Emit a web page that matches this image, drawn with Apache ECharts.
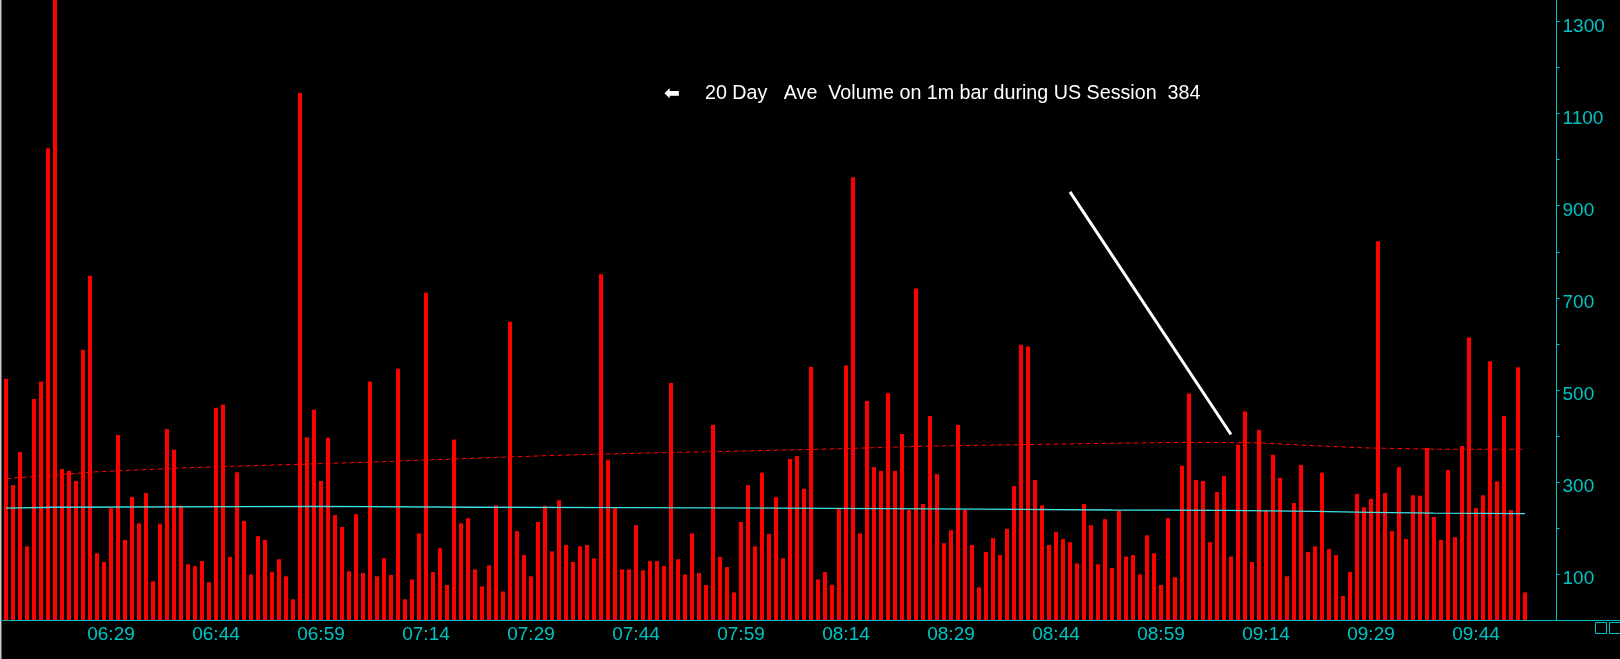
<!DOCTYPE html>
<html>
<head>
<meta charset="utf-8">
<title>1m volume</title>
<script src="https://cdn.jsdelivr.net/npm/echarts@6/dist/echarts.min.js"></script>
<style>
  html, body { margin: 0; padding: 0; background: #000; }
  #chart { width: 1620px; height: 659px; }
</style>
</head>
<body>
<div id="chart"></div>
<script>
// one bar per minute, first bar at 06:14
const startMinute = 6 * 60 + 14
const slotCount = 222 // 218 bars + empty room before the price axis

// volume per 1m bar
const volumes = [
  524, 293, 365, 160, 480, 518, 1025, 1360, 328, 324, 302, 587, 748, 145, 126, 243, 402, 174, 267, 210, 276, 84, 209, 415, 370, 248, 121,
  117, 128, 82, 461, 468, 137, 321, 215, 99, 182, 174, 104, 132, 95, 45, 1145, 397, 457, 302, 396, 228, 202, 106, 230, 102, 518,
  95, 134, 98, 546, 45, 88, 188, 711, 104, 156, 76, 392, 210, 221, 110, 73, 119, 249, 62, 648, 193, 141, 95, 213, 248, 149, 260,
  163, 126, 160, 163, 134, 751, 348, 243, 110, 110, 206, 108, 128, 128, 117, 515, 132, 99, 188, 102, 76, 424, 137, 115, 60, 213,
  293, 160, 320, 187, 267, 134, 350, 356, 285, 550, 88, 104, 76, 241, 553, 962, 188, 476, 332, 324, 493, 324, 404, 239, 720, 252, 443,
  317, 167, 195, 424, 239, 163, 71, 148, 178, 141, 198, 291, 598, 594, 304, 249, 163, 191, 176, 169, 123, 252, 206, 121, 219, 113,
  237, 138, 141, 99, 184, 145, 76, 221, 93, 335, 492, 304, 302, 169, 278, 313, 138, 381, 453, 126, 413, 237, 359, 309, 95, 254, 337,
  148, 160, 320, 154, 141, 52, 104, 274, 245, 263, 823, 276, 193, 332, 176, 271, 270, 374, 224, 174, 326, 180, 378, 614, 243, 271,
  562, 301, 443, 239, 549, 60
]

// 20 day average (red dashed)
const avgTimes = ['06:14', '06:27', '06:40', '06:53', '07:06', '07:20', '07:33', '07:46', '07:59', '08:13',
  '08:26', '08:39', '08:52', '09:03', '09:13', '09:19', '09:28', '09:38', '09:51']
const avgValues = [307, 322, 331, 337, 343, 351, 358, 363, 367, 372, 378, 381, 384, 386, 385, 380, 374, 371, 371]

// session average (cyan)
const sessTimes = ['06:14', '06:21', '06:59', '07:21', '07:43', '08:05', '08:33', '08:52', '09:08', '09:21', '09:29', '09:38', '09:51']
const sessValues = [243, 245, 247, 245, 244, 243, 241, 239, 238, 236, 234, 232, 231]

const yTicks = [100, 200, 300, 400, 500, 600, 700, 800, 900, 1000, 1100, 1200, 1300]
const yLabels = [100, 300, 500, 700, 900, 1100, 1300]

// arrow line end points [time, volume]
const arrowFrom = ['08:46', 930]
const arrowTo = ['09:09', 403]

const noteText = '20 Day   Ave  Volume on 1m bar during US Session  384'

const cyan = '#00c4c4'
const font = "'Liberation Sans', Arial, sans-serif"

function hhmm(m) {
  const h = Math.floor(m / 60), mm = m % 60
  return (h < 10 ? '0' : '') + h + ':' + (mm < 10 ? '0' : '') + mm
}
const times = []
for (let i = 0; i < slotCount; i++) times.push(hhmm(startMinute + i))

const myChart = echarts.init(document.getElementById('chart'))
myChart.setOption({
  backgroundColor: '#000',
  animation: false,
  grid: { left: 2.5, top: 0, width: 1554, bottom: 39 },
  xAxis: {
    type: 'category',
    data: times,
    boundaryGap: true,
    axisLine: { lineStyle: { color: cyan, width: 1 } },
    axisTick: {
      alignWithLabel: true,
      length: 3,
      interval: (i) => i % 15 === 0,
      lineStyle: { color: cyan }
    },
    axisLabel: {
      interval: (i) => i % 15 === 0 && i > 0,
      color: cyan,
      fontFamily: font,
      fontSize: 19,
      margin: 5
    },
    splitLine: { show: false }
  },
  yAxis: {
    type: 'value',
    position: 'right',
    min: 0,
    max: 1347,
    axisLine: { show: true, lineStyle: { color: cyan, width: 1 } },
    axisTick: { show: true, length: 3, customValues: yTicks, lineStyle: { color: cyan } },
    axisLabel: {
      customValues: yLabels,
      formatter: (v) => String(v),
      color: cyan,
      fontFamily: font,
      fontSize: 19,
      margin: 6,
      verticalAlign: 'top',
      lineHeight: 10
    },
    splitLine: { show: false }
  },
  series: [
    {
      type: 'bar',
      data: volumes,
      barWidth: 4,
      clip: true,
      itemStyle: { color: '#ff0000' },
      markLine: {
        silent: true,
        symbol: ['none', 'none'],
        label: { show: false },
        lineStyle: { color: '#ffffff', width: 3, type: 'solid' },
        data: [[{ coord: arrowFrom }, { coord: arrowTo }]]
      }
    },
    {
      type: 'line',
      data: avgTimes.map((t, i) => [t, avgValues[i]]),
      symbol: 'none',
      lineStyle: { color: '#ff0000', width: 1, type: [5, 3] }
    },
    {
      type: 'line',
      data: sessTimes.map((t, i) => [t, sessValues[i]]),
      symbol: 'none',
      lineStyle: { color: '#3fe0e0', width: 1.3 }
    }
  ],
  graphic: [
    { type: 'rect', left: 0, top: 0, shape: { width: 1.5, height: 659 }, style: { fill: '#c8c8c8' } },
    { type: 'line', shape: { x1: 1556, y1: 620.5, x2: 1620, y2: 620.5 }, style: { stroke: cyan, lineWidth: 1 } },
    { type: 'rect', shape: { x: 1595.5, y: 622.5, width: 11, height: 11 }, style: { fill: 'none', stroke: cyan, lineWidth: 1 } },
    { type: 'rect', shape: { x: 1609.5, y: 622.5, width: 11, height: 11 }, style: { fill: 'none', stroke: cyan, lineWidth: 1 } },
    {
      type: 'text', x: 664, y: 94,
      style: { text: '\u2B05', fill: '#fff', font: "bold 19px 'DejaVu Sans'", verticalAlign: 'middle' }
    },
    {
      type: 'text', x: 705, y: 94,
      style: { text: noteText, fill: '#fff', font: '19.7px ' + font, verticalAlign: 'middle' }
    }
  ]
})
</script>
</body>
</html>
